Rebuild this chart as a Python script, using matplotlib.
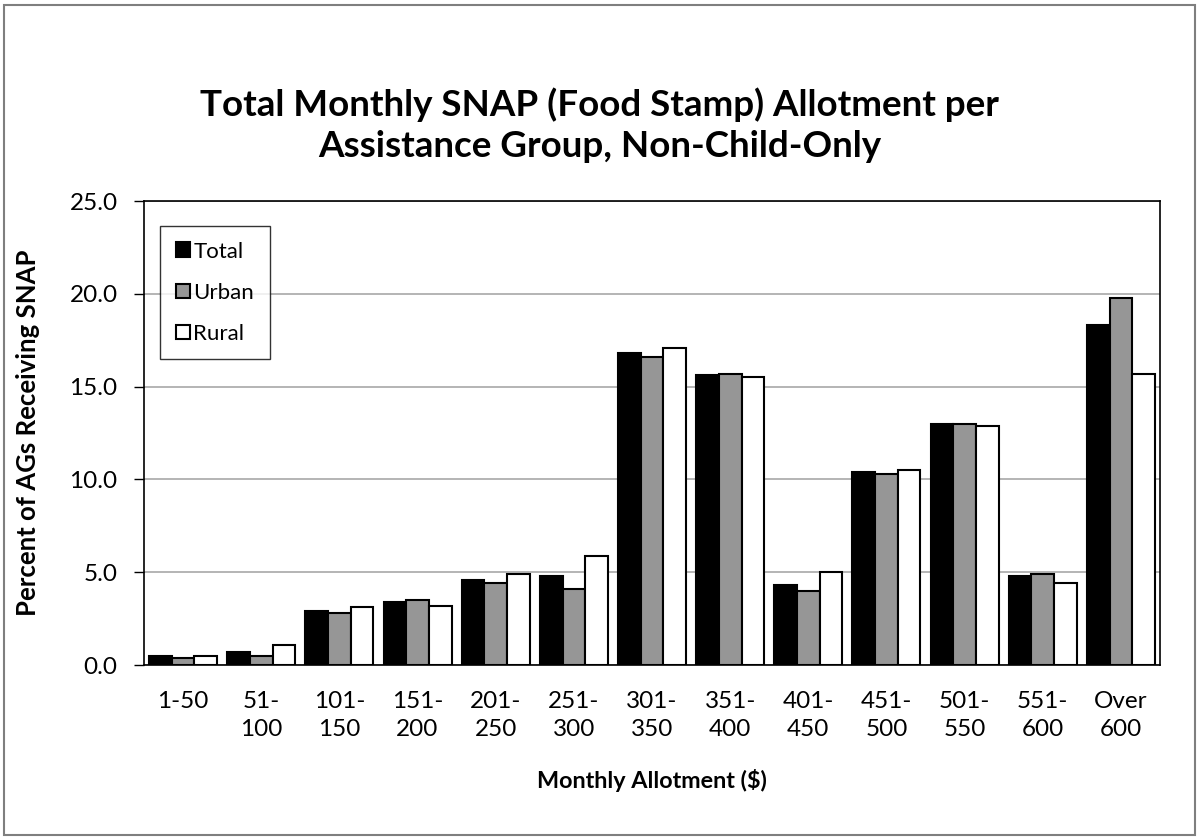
import matplotlib.pyplot as plt
import numpy as np
from matplotlib.patches import Rectangle

plt.rcParams['font.family'] = ['Lato', 'DejaVu Sans']

categories = ['1-50', '51-\n100', '101-\n150', '151-\n200', '201-\n250', '251-\n300',
              '301-\n350', '351-\n400', '401-\n450', '451-\n500', '501-\n550',
              '551-\n600', 'Over\n600']
total = [0.5, 0.7, 2.9, 3.4, 4.6, 4.8, 16.8, 15.6, 4.3, 10.4, 13.0, 4.8, 18.3]
urban = [0.4, 0.5, 2.8, 3.5, 4.4, 4.1, 16.6, 15.7, 4.0, 10.3, 13.0, 4.9, 19.8]
rural = [0.5, 1.1, 3.1, 3.2, 4.9, 5.9, 17.1, 15.5, 5.0, 10.5, 12.9, 4.4, 15.7]
series_names = ['Total', 'Urban', 'Rural']
yticks = [0, 5, 10, 15, 20, 25]

fig = plt.figure(figsize=(11.99, 8.40), dpi=100)
ax = fig.add_axes([0.1201, 0.2083, 0.8474, 0.5524])

x = np.arange(len(categories))
w = 0.29
ax.bar(x - w, total, w, color='black', edgecolor='black', linewidth=1.5, label=series_names[0], zorder=3)
ax.bar(x, urban, w, color='#969696', edgecolor='black', linewidth=1.5, label=series_names[1], zorder=3)
ax.bar(x + w, rural, w, color='white', edgecolor='black', linewidth=1.5, label=series_names[2], zorder=3)

ax.set_xlim(-0.5, len(categories) - 0.5)
ax.set_ylim(0, 25)
ax.set_yticks(yticks)
ax.set_yticklabels(['%.1f' % v for v in yticks], fontsize=17.5)
ax.set_xticks(x)
ax.set_xticklabels(categories, fontsize=17.5, linespacing=1.4)
ax.tick_params(axis='x', length=0, pad=19)
ax.tick_params(axis='y', length=7, width=1, direction='out', pad=12)
ax.yaxis.grid(True, color='#a8a8a8', linewidth=1.2, zorder=0)
ax.set_axisbelow(True)
for s in ax.spines.values():
    s.set_linewidth(1.2)
    s.set_color('black')

leg = ax.legend(loc='upper left', bbox_to_anchor=(0.0157, 0.946), borderaxespad=0,
                fontsize=16, frameon=True, fancybox=False, edgecolor='black',
                handlelength=0.65, handleheight=0.65, handletextpad=0.15,
                labelspacing=0.95, borderpad=0.7)
leg.get_frame().set_linewidth(1.0)

fig.text(0.5, 0.851, 'Total Monthly SNAP (Food Stamp) Allotment per\nAssistance Group, Non-Child-Only',
         ha='center', va='center', fontsize=26.5, fontweight='bold', linespacing=1.32)
fig.text(0.5438, 0.0714, 'Monthly Allotment ($)', ha='center', va='center',
         fontsize=16.8, fontweight='bold')
fig.text(0.0234, 0.4845, 'Percent of AGs Receiving SNAP', ha='center', va='center',
         rotation=90, fontsize=18.5, fontweight='bold')

fig.patches.append(Rectangle((0.0035, 0.006), 0.9935, 0.988, transform=fig.transFigure,
                             fill=False, edgecolor='#7f7f7f', linewidth=1.5))

fig.savefig('out.png', dpi=100)
